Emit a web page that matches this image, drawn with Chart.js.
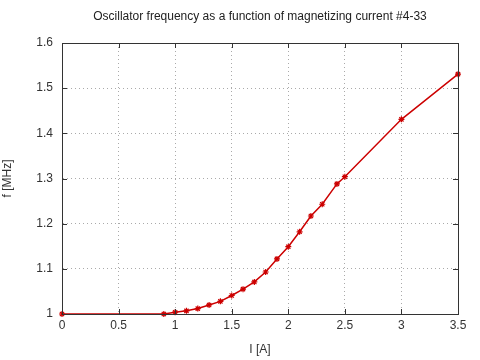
<!DOCTYPE html>
<html>
<head>
<meta charset="utf-8">
<script src="https://cdn.jsdelivr.net/npm/chart.js@4.4.4/dist/chart.umd.min.js"></script>
<style>
  html, body { margin: 0; padding: 0; background: #fff; }
  #wrap { width: 480px; height: 360px; }
</style>
</head>
<body>
<div id="wrap"><canvas id="c" width="480" height="360"></canvas></div>
<script>
// magnetizing current I [A]
const current = [0, 0.9, 1.0, 1.1, 1.2, 1.3, 1.4, 1.5, 1.6, 1.7, 1.8, 1.9, 2.0, 2.1, 2.2, 2.3, 2.43, 2.5, 3.0, 3.5];
// oscillator frequency f [MHz]
const freq = [1.000, 1.000, 1.004, 1.007, 1.012, 1.020, 1.028, 1.041, 1.055, 1.071, 1.093, 1.122, 1.149, 1.182, 1.217, 1.243, 1.288, 1.304, 1.431, 1.531];

const xTicks = [0, 0.5, 1, 1.5, 2, 2.5, 3, 3.5];
const yTicks = [1, 1.1, 1.2, 1.3, 1.4, 1.5, 1.6];

const TITLE = 'Oscillator frequency as a function of magnetizing current #4-33';
const FONT = 'Liberation Sans, Arial, sans-serif';

// gnuplot-like frame with small inward tick marks, title centred over the plot
const frame = {
  id: 'frame',
  afterDraw(chart) {
    const { ctx, chartArea: a, scales } = chart;
    ctx.save();
    ctx.strokeStyle = '#333';
    ctx.lineWidth = 1;
    ctx.strokeRect(a.left + 0.5, a.top + 0.5, a.right - a.left, a.bottom - a.top);
    ctx.beginPath();
    yTicks.forEach(v => {
      const y = Math.round(scales.y.getPixelForValue(v)) + 0.5;
      ctx.moveTo(a.left, y); ctx.lineTo(a.left + 5, y);
      ctx.moveTo(a.right, y); ctx.lineTo(a.right - 5, y);
    });
    xTicks.forEach(v => {
      const x = Math.round(scales.x.getPixelForValue(v)) + 0.5;
      ctx.moveTo(x, a.bottom); ctx.lineTo(x, a.bottom - 5);
      ctx.moveTo(x, a.top); ctx.lineTo(x, a.top + 5);
    });
    ctx.stroke();
    ctx.fillStyle = '#222';
    ctx.font = '12px ' + FONT;
    ctx.textAlign = 'center';
    ctx.textBaseline = 'middle';
    ctx.fillText(TITLE, (a.left + a.right) / 2, 17);
    ctx.restore();
  }
};

const fmt = v => String(Math.round(v * 10) / 10);

new Chart(document.getElementById('c'), {
  type: 'line',
  data: {
    datasets: [{
      data: current.map((x, i) => ({ x, y: freq[i] })),
      borderColor: '#cc0000',
      backgroundColor: '#cc0000',
      borderWidth: 1.5,
      pointStyle: 'star',
      pointRadius: 3,
      pointBorderWidth: 1.2,
      tension: 0,
      clip: false
    }]
  },
  options: {
    responsive: false,
    animation: false,
    layout: { padding: { left: 0, right: 22, top: 43, bottom: 0 } },
    plugins: {
      legend: { display: false },
      tooltip: { enabled: false },
      title: { display: false }
    },
    scales: {
      x: {
        type: 'linear',
        min: 0, max: 3.5,
        afterBuildTicks: s => { s.ticks = xTicks.map(v => ({ value: v })); },
        ticks: { color: '#333', font: { family: FONT, size: 12 }, padding: 4, callback: fmt },
        grid: { color: '#aaa', drawTicks: false },
        border: { display: true, color: 'rgba(0,0,0,0)', dash: [1, 3] },
        title: { display: true, text: 'I [A]', color: '#333', font: { family: FONT, size: 12 }, padding: { top: 8, bottom: 3 } },
        afterFit: s => { s.height = 46; }
      },
      y: {
        type: 'linear',
        min: 1, max: 1.6,
        afterBuildTicks: s => { s.ticks = yTicks.map(v => ({ value: v })); },
        ticks: { color: '#333', font: { family: FONT, size: 12 }, padding: 9, callback: fmt },
        grid: { color: '#aaa', drawTicks: false },
        border: { display: true, color: 'rgba(0,0,0,0)', dash: [1, 3] },
        title: { display: true, text: 'f [MHz]', color: '#333', font: { family: FONT, size: 12 }, padding: { top: 0, bottom: 8 } },
        afterFit: s => { s.width = 62; }
      }
    }
  },
  plugins: [frame]
});
</script>
</body>
</html>
